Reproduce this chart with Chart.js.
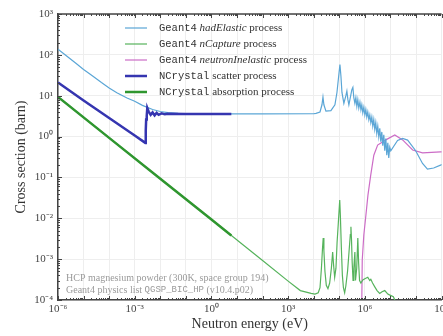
<!DOCTYPE html>
<html>
<head>
<meta charset="utf-8">
<script src="https://cdn.jsdelivr.net/npm/chart.js@4.4.1/dist/chart.umd.min.js"></script>
<style>
html, body { margin: 0; padding: 0; overflow: hidden; background: #fff; }
#wrap { width: 452px; height: 336px; }
</style>
</head>
<body>
<div id="wrap"><canvas id="c"></canvas></div>
<script>
// energies in eV, cross sections in barn
const hadElasticE = [1e-6, 2e-6, 5e-6, 1e-5, 2e-5, 5e-5, 1e-4, 2e-4, 5e-4, 1e-3, 2e-3, 5e-3, 1e-2, 2e-2, 5e-2, 0.1, 1, 100, 1e4,
  1.23e4, 1.76e4, 2.1e4, 2.3e4, 2.5e4, 3.0e4, 4.7e4, 6.75e4, 8.1e4, 9.7e4, 1.06e5, 1.16e5, 1.27e5, 1.51e5, 1.81e5, 1.98e5,
  2.17e5, 2.37e5, 2.6e5, 3.1e5, 3.4e5, 3.7e5,
  4.07e5, 4.45e5, 4.86e5, 5.3e5, 5.8e5, 6.4e5, 7.0e5, 7.6e5, 8.3e5, 9.1e5, 1.0e6, 1.09e6, 1.19e6, 1.3e6, 1.43e6, 1.56e6,
  1.71e6, 1.87e6, 2.04e6, 2.23e6, 2.44e6, 2.67e6, 2.92e6, 3.2e6, 3.5e6, 3.83e6, 4.19e6, 4.6e6, 5.0e6, 5.5e6, 6.0e6, 6.6e6,
  7.2e6, 7.9e6, 8.6e6, 9.4e6, 1.03e7,
  1.9e7, 3.0e7, 4.7e7, 9.7e7, 1.8e8, 2.8e8, 4.9e8, 9.1e8, 1.2e9];
const hadElasticXS = [138, 98, 62, 44, 32, 21, 15.5, 11.8, 8.8, 7.3, 5.8, 4.6, 4.1, 3.85, 3.7, 3.65, 3.6, 3.6, 3.62,
  3.7, 4.0, 6, 9.3, 6, 4.2, 4.3, 6, 12, 35, 58, 30, 12, 6.5, 10, 13,
  8, 6, 8, 14, 16, 9,
  6.5, 9, 5.5, 8, 5, 7, 4.5, 6, 3.8, 5.2, 3.4, 4.6, 3.0, 4.0, 2.6, 3.4,
  2.2, 3.0, 1.8, 2.6, 1.5, 2.2, 1.2, 1.8, 1.0, 1.6, 0.75, 1.3, 0.6, 1.1, 0.45, 0.9,
  0.35, 0.7, 0.3, 0.55, 0.45,
  0.8, 0.9, 0.82, 0.45, 0.22, 0.16, 0.17, 0.2, 0.21];

const captureE = [1e-6, 1e-3, 1, 100, 1e3, 3e3, 7.9e3, 1.12e4, 1.5e4, 1.76e4, 2.0e4, 2.2e4, 2.35e4, 2.5e4, 2.75e4, 3.1e4,
  3.6e4, 4.2e4, 4.9e4, 5.5e4, 6.0e4, 6.6e4, 7.4e4, 8.2e4, 9.2e4, 1.04e5, 1.1e5, 1.2e5, 1.32e5, 1.45e5, 1.62e5, 1.8e5,
  2.1e5, 2.4e5, 2.7e5, 2.85e5, 3.0e5, 3.2e5, 3.45e5, 3.7e5, 4.07e5, 4.3e5, 4.8e5, 5.3e5, 5.7e5, 6.2e5, 7.0e5, 8.3e5,
  1.0e6, 1.3e6, 1.55e6, 1.71e6, 2.0e6, 2.44e6, 3.0e6, 3.8e6, 4.7e6, 6.0e6, 7.9e6, 1.0e7, 1.3e7, 1.48e7, 1.6e7];
const captureXS = [9.3, 0.294, 0.0093, 9.3e-4, 2.9e-4, 1.7e-4, 1.45e-4, 1.4e-4, 1.5e-4, 2.0e-4, 6e-4, 1.8e-3, 3.3e-3, 1.6e-3, 5e-4, 2.3e-4,
  1.9e-4, 2.6e-4, 6e-4, 1.5e-3, 7e-4, 3.6e-4, 6e-4, 2.6e-3, 8e-3, 2.8e-2, 1.2e-2, 2e-3, 4e-4, 2.0e-4, 1.5e-4, 2.2e-4,
  5e-4, 1.5e-3, 4e-3, 6.2e-3, 3e-3, 8e-4, 3e-4, 6e-4, 1.5e-3, 3e-4, 6e-4, 3.3e-3, 8e-4, 3e-4, 2.6e-4, 3.1e-4,
  3.3e-4, 3.6e-4, 3.0e-4, 3.2e-4, 2.6e-4, 2.1e-4, 1.7e-4, 1.45e-4, 1.6e-4, 1.7e-4, 1.4e-4, 1.3e-4, 1.2e-4, 1.0e-4, 8e-5];

const inelasticE = [7.4e5, 7.6e5, 7.9e5, 9.1e5, 1.1e6, 1.32e6, 1.7e6, 2.24e6, 3.16e6, 6.6e6, 1.48e7, 3.0e7, 7.4e7, 1.8e8, 9.1e8, 1.2e9];
const inelasticXS = [5e-5, 1e-4, 9.5e-4, 3.9e-3, 0.012, 0.037, 0.115, 0.35, 0.62, 0.83, 1.1, 0.83, 0.47, 0.40, 0.42, 0.42];

const ncScatterE = [1e-6, 1e-5, 1e-4, 1e-3, 2.6e-3, 2.7e-3, 2.8e-3, 2.95e-3, 3.1e-3, 3.5e-3, 4.2e-3, 5.0e-3, 6.0e-3, 7.2e-3,
  8.6e-3, 1.13e-2, 1.5e-2, 2e-2, 0.1, 1, 6];
const ncScatterXS = [21, 7.6, 2.85, 1.06, 0.70, 1.4, 2.6, 3.2, 5.0, 4.1, 3.4, 3.9, 3.3, 3.8, 3.4, 3.7, 3.5, 3.6, 3.57, 3.57, 3.57];

const ncAbsorbE = [1e-6, 1e-4, 1e-2, 1, 6];
const ncAbsorbXS = [9.3, 0.93, 0.093, 0.0093, 0.0038];

const xTickExps = [-6, -5, -4, -3, -2, -1, 0, 1, 2, 3, 4, 5, 6, 7, 8, 9];
const xLabelExps = [-6, -3, 0, 3, 6, 9];
const yTickExps = [-4, -3, -2, -1, 0, 1, 2, 3];

const legendLabels = [
  [['Geant4', 'mono'], [' hadElastic', 'it'], [' process', 'rm']],
  [['Geant4', 'mono'], [' nCapture', 'it'], [' process', 'rm']],
  [['Geant4', 'mono'], [' neutronInelastic', 'it'], [' process', 'rm']],
  [['NCrystal', 'mono'], [' scatter process', 'rm']],
  [['NCrystal', 'mono'], [' absorption process', 'rm']]
];
const noteLines = [
  [['HCP magnesium powder (300K, space group 194)', 'note']],
  [['Geant4 physics list ', 'note'], ['QGSP_BIC_HP', 'noteMono'], [' (v10.4.p02)', 'note']]
];

const fonts = {
  mono: '10.5px "Liberation Mono"',
  it: 'italic 11px "Liberation Serif"',
  rm: '11px "Liberation Serif"',
  note: '10px "Liberation Serif"',
  noteMono: '9px "Liberation Mono"'
};

function pts(es, vs) {
  return es.map((e, i) => ({ x: e, y: vs[i] }));
}

const sup = { '-': '\u207b', '0': '\u2070', '1': '\u00b9', '2': '\u00b2', '3': '\u00b3', '4': '\u2074',
  '5': '\u2075', '6': '\u2076', '7': '\u2077', '8': '\u2078', '9': '\u2079' };
function pow10(v) {
  const e = Math.round(Math.log10(v));
  return '10' + String(e).split('').map(ch => sup[ch]).join('');
}

function drawSegs(ctx, segs, x, y) {
  segs.forEach(([t, f]) => {
    ctx.font = fonts[f];
    ctx.fillText(t, x, y);
    x += ctx.measureText(t).width;
  });
}

const overlay = {
  id: 'overlay',
  afterDraw(chart) {
    const { ctx, chartArea: a, scales } = chart;
    const x = scales.x, y = scales.y;
    ctx.save();
    // top frame + inward ticks
    ctx.strokeStyle = '#444';
    ctx.lineWidth = 1.5;
    ctx.beginPath();
    ctx.moveTo(a.left, a.top);
    ctx.lineTo(a.right, a.top);
    ctx.stroke();
    ctx.lineWidth = 1;
    ctx.beginPath();
    xTickExps.forEach(e => {
      for (let m = 1; m < 10; m++) {
        const v = m * Math.pow(10, e);
        if (v > x.max) continue;
        const px = Math.round(x.getPixelForValue(v)) + 0.5;
        const len = m === 1 ? 4 : 2;
        ctx.moveTo(px, a.bottom); ctx.lineTo(px, a.bottom - len);
        ctx.moveTo(px, a.top); ctx.lineTo(px, a.top + len);
      }
    });
    yTickExps.forEach(e => {
      for (let m = 1; m < 10; m++) {
        const v = m * Math.pow(10, e);
        if (v > y.max) continue;
        const py = Math.round(y.getPixelForValue(v)) + 0.5;
        const len = m === 1 ? 4 : 2;
        ctx.moveTo(a.left, py); ctx.lineTo(a.left + len, py);
      }
    });
    ctx.stroke();

    // legend
    ctx.textBaseline = 'middle';
    ctx.fillStyle = '#333';
    chart.data.datasets.forEach((ds, i) => {
      const ly = a.top + 14 + i * 16;
      ctx.strokeStyle = ds.borderColor;
      ctx.lineWidth = ds.borderWidth;
      ctx.beginPath();
      ctx.moveTo(a.left + 67, ly);
      ctx.lineTo(a.left + 89, ly);
      ctx.stroke();
      drawSegs(ctx, legendLabels[i], a.left + 101, ly);
    });

    // note text
    ctx.fillStyle = '#9a9a9a';
    noteLines.forEach((segs, i) => {
      drawSegs(ctx, segs, a.left + 8, a.bottom - 22 + i * 12);
    });
    ctx.restore();
  }
};

new Chart(document.getElementById('c'), {
  type: 'line',
  data: {
    datasets: [
      { label: 'Geant4 hadElastic process', data: pts(hadElasticE, hadElasticXS), borderColor: '#5ba6d6', borderWidth: 1.2, order: 1 },
      { label: 'Geant4 nCapture process', data: pts(captureE, captureXS), borderColor: '#56b35c', borderWidth: 1.2, order: 1 },
      { label: 'Geant4 neutronInelastic process', data: pts(inelasticE, inelasticXS), borderColor: '#cc6cc6', borderWidth: 1.2, order: 1 },
      { label: 'NCrystal scatter process', data: pts(ncScatterE, ncScatterXS), borderColor: '#3535b0', borderWidth: 2.5, order: 0 },
      { label: 'NCrystal absorption process', data: pts(ncAbsorbE, ncAbsorbXS), borderColor: '#2f962f', borderWidth: 2.5, order: 0 }
    ]
  },
  options: {
    responsive: true,
    maintainAspectRatio: false,
    animation: false,
    layout: { padding: { top: 14, left: 0, right: 0, bottom: 0 } },
    elements: { point: { radius: 0 }, line: { tension: 0 } },
    plugins: { legend: { display: false }, tooltip: { enabled: false } },
    scales: {
      x: {
        type: 'logarithmic',
        min: 1e-6,
        max: 1e9,
        afterBuildTicks: s => { s.ticks = xTickExps.map(e => ({ value: Math.pow(10, e) })); },
        afterFit: s => { s.height = 36; },
        ticks: {
          autoSkip: false,
          maxRotation: 0,
          padding: 3,
          color: '#444',
          font: { family: 'Liberation Serif', size: 11 },
          callback: v => xLabelExps.includes(Math.round(Math.log10(v))) ? pow10(v) : ''
        },
        grid: { color: '#eeeeee', drawTicks: false },
        border: { color: '#444', width: 1.5 },
        title: { display: true, text: 'Neutron energy (eV)', color: '#333',
          font: { family: 'Liberation Serif', size: 14 }, padding: { top: 0, bottom: 3 } }
      },
      y: {
        type: 'logarithmic',
        min: 1e-4,
        max: 1e3,
        afterBuildTicks: s => { s.ticks = yTickExps.map(e => ({ value: Math.pow(10, e) })); },
        afterFit: s => { s.width = 58; },
        ticks: {
          padding: 5,
          color: '#444',
          font: { family: 'Liberation Serif', size: 11 },
          callback: v => pow10(v)
        },
        grid: { color: '#eeeeee', drawTicks: false },
        border: { color: '#444', width: 1.5 },
        title: { display: true, text: 'Cross section (barn)', color: '#333',
          font: { family: 'Liberation Serif', size: 14 }, padding: { top: 13, bottom: 0 } }
      }
    }
  },
  plugins: [overlay]
});
</script>
</body>
</html>
